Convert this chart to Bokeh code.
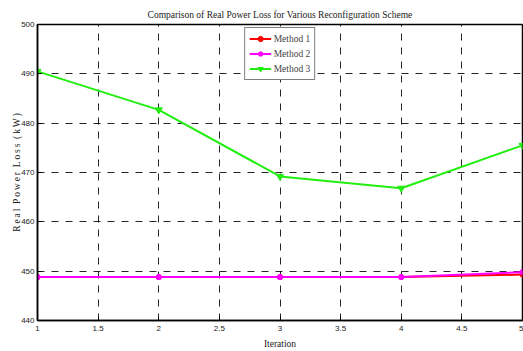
from bokeh.plotting import figure
from bokeh.models import Range1d, Legend, LegendItem, FixedTicker
from bokeh.embed import file_html
from bokeh.resources import INLINE

iterations = [1, 2, 3, 4, 5]
method1 = [448.8, 448.8, 448.8, 448.8, 449.3]
method2 = [448.8, 448.8, 448.8, 448.8, 449.8]
method3 = [490.5, 482.7, 469.2, 466.8, 475.5]
x_ticks = [1, 1.5, 2, 2.5, 3, 3.5, 4, 4.5, 5]
y_ticks = [440, 450, 460, 470, 480, 490, 500]

p = figure(width=523, height=351, output_backend="svg", toolbar_location=None,
           x_range=Range1d(1, 5), y_range=Range1d(440, 500),
           min_border_left=37, min_border_right=1, min_border_top=24, min_border_bottom=31)

p.title.text = "Comparison of Real Power Loss for Various Reconfiguration Scheme"
p.title.align = "center"
p.title.text_font = "Liberation Serif"
p.title.text_font_size = "9.5px"
p.title.text_font_style = "normal"
p.title.text_color = "#222222"
p.title.offset = 0

p.background_fill_color = "white"
p.outline_line_color = "black"
p.outline_line_width = 1.5

for ax in [p.xaxis[0], p.yaxis[0]]:
    ax.major_label_text_font = "Liberation Sans"
    ax.major_label_text_font_size = "8px"
    ax.major_label_text_color = "#222222"
    ax.axis_line_color = "black"
    ax.axis_line_width = 1.5
    ax.major_tick_in = 4
    ax.major_tick_out = 0
    ax.minor_tick_line_color = None
    ax.axis_label_text_font = "Liberation Serif"
    ax.axis_label_text_font_size = "9.5px"
    ax.axis_label_text_font_style = "normal"
    ax.axis_label_text_color = "#222222"

p.xaxis.ticker = FixedTicker(ticks=x_ticks)
p.yaxis.ticker = FixedTicker(ticks=y_ticks)
p.xaxis.major_label_overrides = {1: "1", 1.5: "1.5", 2: "2", 2.5: "2.5", 3: "3", 3.5: "3.5", 4: "4", 4.5: "4.5", 5: "5"}
p.xaxis.major_label_standoff = 5
p.yaxis.major_label_standoff = 3
p.xaxis.axis_label = "Iteration"
sp = "\u2009"
p.yaxis.axis_label = sp.join("Real") + "\u00a0\u00a0" + sp.join("Power") + "\u00a0\u00a0" + sp.join("Loss") + "\u00a0\u00a0" + sp.join("(kW)")
p.xaxis.axis_label_standoff = 5
p.yaxis.axis_label_standoff = -4

p.xgrid.ticker = FixedTicker(ticks=x_ticks)
p.ygrid.ticker = FixedTicker(ticks=y_ticks)
p.grid.grid_line_color = "black"
p.grid.grid_line_dash = "7 7"
p.grid.grid_line_width = 1
p.grid.grid_line_alpha = 0.85

r1 = p.line(iterations, method1, line_color="red", line_width=2)
m1 = p.scatter(iterations, method1, marker="circle", size=5, fill_color="red", line_color="red")
r2 = p.line(iterations, method2, line_color="magenta", line_width=2)
m2 = p.scatter(iterations, method2, marker="asterisk", size=6, line_color="magenta", line_width=2)
r3 = p.line(iterations, method3, line_color="#22ee11", line_width=2)
m3 = p.scatter(iterations, method3, marker="inverted_triangle", size=7, fill_color="#22ee11", line_color="#22ee11")

legend = Legend(items=[
    LegendItem(label="Method 1", renderers=[r1, m1]),
    LegendItem(label="Method 2", renderers=[r2, m2]),
    LegendItem(label="Method 3", renderers=[r3, m3]),
], location="top_center")
legend.label_text_font = "Liberation Serif"
legend.label_text_font_size = "9.5px"
legend.label_height = 13
legend.glyph_height = 13
legend.glyph_width = 22
legend.spacing = 2
legend.padding = 4
legend.margin = 3
legend.label_standoff = 3
legend.border_line_color = "black"
legend.border_line_width = 1.2
legend.background_fill_alpha = 1
p.add_layout(legend)

open("out.html", "w").write(file_html(p, INLINE))
